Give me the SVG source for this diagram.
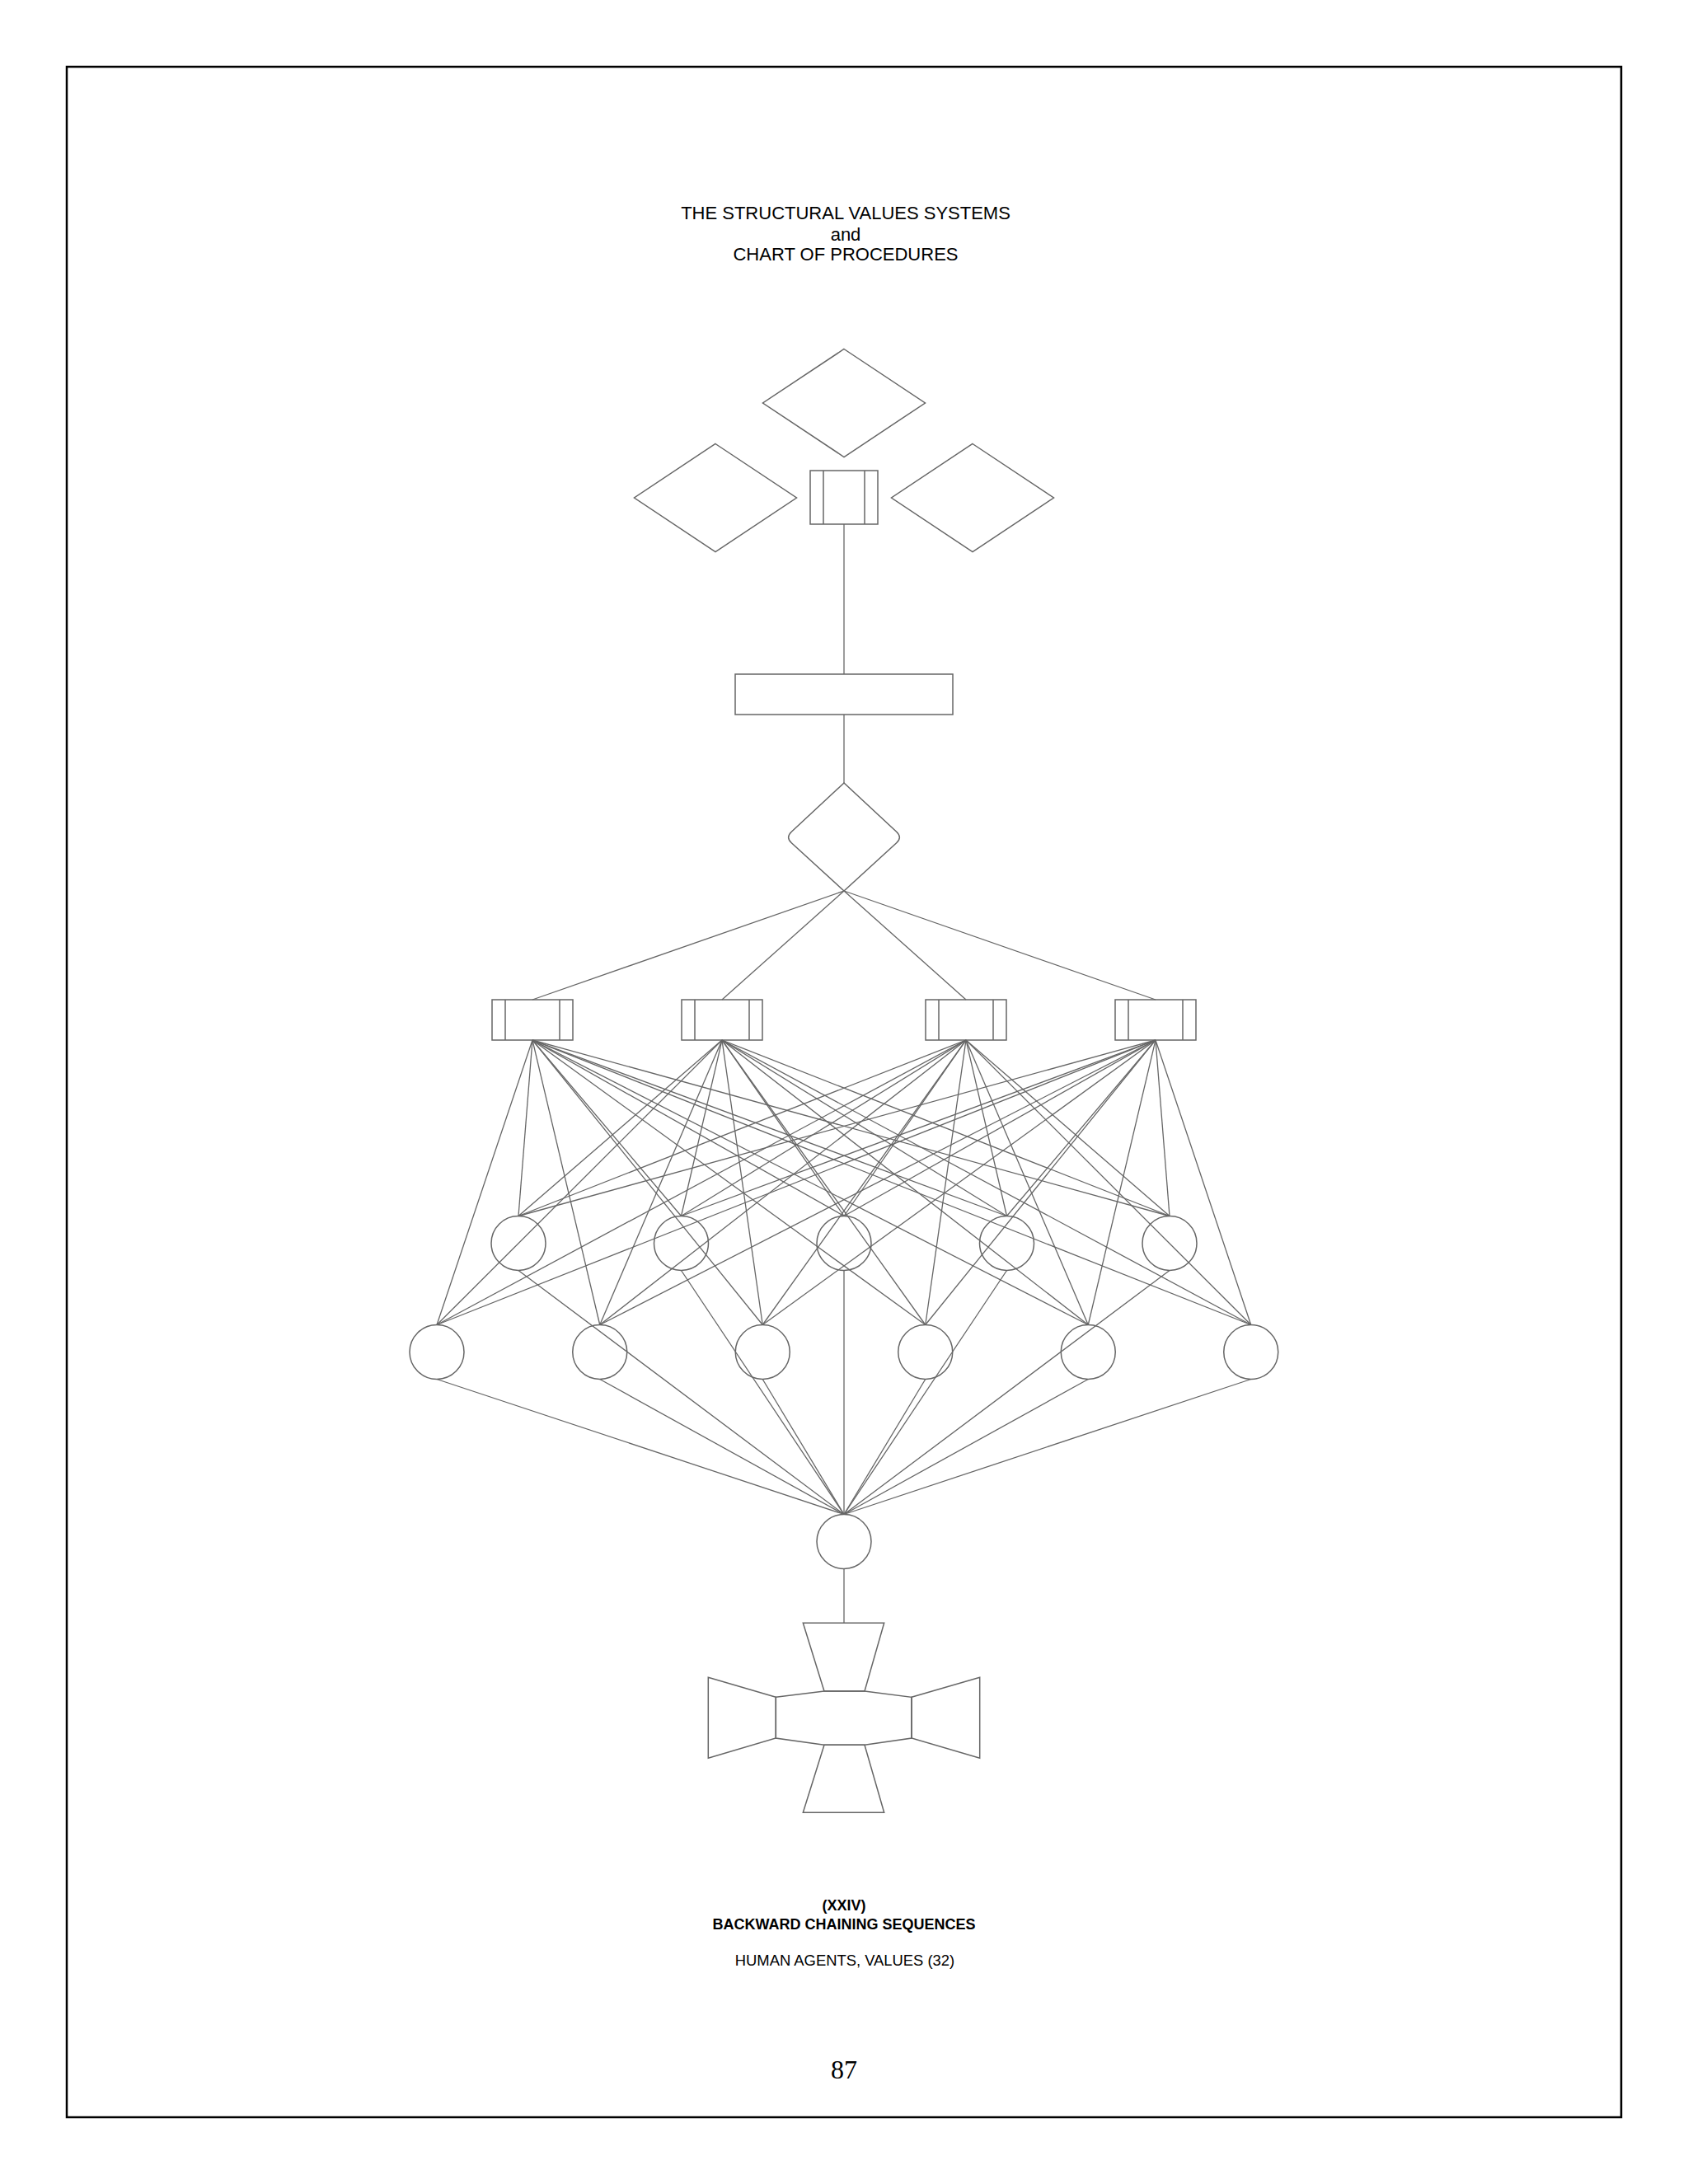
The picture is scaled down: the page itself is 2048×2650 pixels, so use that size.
<svg xmlns="http://www.w3.org/2000/svg" width="2048" height="2650" viewBox="0 0 2048 2650">
<style>
.s{fill:none;stroke:#666;stroke-width:1.5}
.c line{stroke:#666;stroke-width:1.3}
.t{font-family:"Liberation Sans",Arial,sans-serif;fill:#000;text-anchor:middle}
.b{font-weight:bold}
</style>
<rect x="0" y="0" width="2048" height="2650" fill="#fff"/>
<rect x="81" y="81" width="1886" height="2488" fill="none" stroke="#000" stroke-width="2.5"/>
<g id="title">
<text class="t" x="1026" y="265.5" font-size="22">THE STRUCTURAL VALUES SYSTEMS</text>
<text class="t" x="1026" y="292" font-size="22">and</text>
<text class="t" x="1026" y="316" font-size="22">CHART OF PROCEDURES</text>
</g>
<g id="diamond-top"><polygon class="s" points="1024,423.5 1122.5,489 1024,554.5 925.5,489"/></g>
<g id="diamond-left"><polygon class="s" points="868,538.5 966.5,604 868,669.5 769.5,604"/></g>
<g id="diamond-right"><polygon class="s" points="1180,538.5 1278.5,604 1180,669.5 1081.5,604"/></g>
<g id="box-top"><rect class="s" x="983" y="571" width="82" height="65"/><line class="s" x1="999" y1="571" x2="999" y2="636"/><line class="s" x1="1049" y1="571" x2="1049" y2="636"/></g>
<g id="rect-mid"><rect class="s" x="892" y="818" width="264" height="49"/></g>
<g id="decision"><path class="s" d="M1024,950 L960.3,1009.2 Q953,1016 960.3,1022.8 L1024,1081 L1087.7,1022.8 Q1095,1016 1087.7,1009.2 Z"/></g>
<g id="box1"><rect class="s" x="597" y="1213" width="98" height="49"/><line class="s" x1="613" y1="1213" x2="613" y2="1262"/><line class="s" x1="679" y1="1213" x2="679" y2="1262"/></g>
<g id="box2"><rect class="s" x="827" y="1213" width="98" height="49"/><line class="s" x1="843" y1="1213" x2="843" y2="1262"/><line class="s" x1="909" y1="1213" x2="909" y2="1262"/></g>
<g id="box3"><rect class="s" x="1123" y="1213" width="98" height="49"/><line class="s" x1="1139" y1="1213" x2="1139" y2="1262"/><line class="s" x1="1205" y1="1213" x2="1205" y2="1262"/></g>
<g id="box4"><rect class="s" x="1353" y="1213" width="98" height="49"/><line class="s" x1="1369" y1="1213" x2="1369" y2="1262"/><line class="s" x1="1435" y1="1213" x2="1435" y2="1262"/></g>
<g id="r1c1"><circle class="s" cx="629" cy="1508.5" r="33"/></g>
<g id="r1c2"><circle class="s" cx="826.5" cy="1508.5" r="33"/></g>
<g id="r1c3"><circle class="s" cx="1024" cy="1508.5" r="33"/></g>
<g id="r1c4"><circle class="s" cx="1221.5" cy="1508.5" r="33"/></g>
<g id="r1c5"><circle class="s" cx="1419" cy="1508.5" r="33"/></g>
<g id="r2c1"><circle class="s" cx="530" cy="1640.5" r="33"/></g>
<g id="r2c2"><circle class="s" cx="727.75" cy="1640.5" r="33"/></g>
<g id="r2c3"><circle class="s" cx="925.25" cy="1640.5" r="33"/></g>
<g id="r2c4"><circle class="s" cx="1122.75" cy="1640.5" r="33"/></g>
<g id="r2c5"><circle class="s" cx="1320.25" cy="1640.5" r="33"/></g>
<g id="r2c6"><circle class="s" cx="1517.75" cy="1640.5" r="33"/></g>
<g id="circle-bottom"><circle class="s" cx="1024" cy="1870.5" r="33"/></g>
<g id="cross">
<polygon class="s" points="974.3,1969.3 1072.7,1969.3 1049,2052 1000,2052"/>
<polygon class="s" points="941.3,2059.3 1000,2052 1049,2052 1106,2059.3 1106,2109 1049,2117.3 1000,2117.3 941.3,2109"/>
<polygon class="s" points="941.3,2059.3 859.3,2035.3 859.3,2133.3 941.3,2109"/>
<polygon class="s" points="1106,2059.3 1188.7,2035.3 1188.7,2133.3 1106,2109"/>
<polygon class="s" points="1000,2117.3 1049,2117.3 1072.7,2199.3 974.3,2199.3"/>
</g>
<g id="connectors" class="c">
<line x1="1024" y1="636" x2="1024" y2="818"/>
<line x1="1024" y1="867" x2="1024" y2="950"/>
<line x1="1024" y1="1081" x2="646" y2="1213"/>
<line x1="1024" y1="1081" x2="876" y2="1213"/>
<line x1="1024" y1="1081" x2="1172" y2="1213"/>
<line x1="1024" y1="1081" x2="1402" y2="1213"/>
<line x1="646" y1="1262" x2="629" y2="1475.5"/>
<line x1="646" y1="1262" x2="826.5" y2="1475.5"/>
<line x1="646" y1="1262" x2="1024" y2="1475.5"/>
<line x1="646" y1="1262" x2="1221.5" y2="1475.5"/>
<line x1="646" y1="1262" x2="1419" y2="1475.5"/>
<line x1="646" y1="1262" x2="530" y2="1607.5"/>
<line x1="646" y1="1262" x2="727.75" y2="1607.5"/>
<line x1="646" y1="1262" x2="925.25" y2="1607.5"/>
<line x1="646" y1="1262" x2="1122.75" y2="1607.5"/>
<line x1="646" y1="1262" x2="1320.25" y2="1607.5"/>
<line x1="646" y1="1262" x2="1517.75" y2="1607.5"/>
<line x1="876" y1="1262" x2="629" y2="1475.5"/>
<line x1="876" y1="1262" x2="826.5" y2="1475.5"/>
<line x1="876" y1="1262" x2="1024" y2="1475.5"/>
<line x1="876" y1="1262" x2="1221.5" y2="1475.5"/>
<line x1="876" y1="1262" x2="1419" y2="1475.5"/>
<line x1="876" y1="1262" x2="530" y2="1607.5"/>
<line x1="876" y1="1262" x2="727.75" y2="1607.5"/>
<line x1="876" y1="1262" x2="925.25" y2="1607.5"/>
<line x1="876" y1="1262" x2="1122.75" y2="1607.5"/>
<line x1="876" y1="1262" x2="1320.25" y2="1607.5"/>
<line x1="876" y1="1262" x2="1517.75" y2="1607.5"/>
<line x1="1172" y1="1262" x2="629" y2="1475.5"/>
<line x1="1172" y1="1262" x2="826.5" y2="1475.5"/>
<line x1="1172" y1="1262" x2="1024" y2="1475.5"/>
<line x1="1172" y1="1262" x2="1221.5" y2="1475.5"/>
<line x1="1172" y1="1262" x2="1419" y2="1475.5"/>
<line x1="1172" y1="1262" x2="530" y2="1607.5"/>
<line x1="1172" y1="1262" x2="727.75" y2="1607.5"/>
<line x1="1172" y1="1262" x2="925.25" y2="1607.5"/>
<line x1="1172" y1="1262" x2="1122.75" y2="1607.5"/>
<line x1="1172" y1="1262" x2="1320.25" y2="1607.5"/>
<line x1="1172" y1="1262" x2="1517.75" y2="1607.5"/>
<line x1="1402" y1="1262" x2="629" y2="1475.5"/>
<line x1="1402" y1="1262" x2="826.5" y2="1475.5"/>
<line x1="1402" y1="1262" x2="1024" y2="1475.5"/>
<line x1="1402" y1="1262" x2="1221.5" y2="1475.5"/>
<line x1="1402" y1="1262" x2="1419" y2="1475.5"/>
<line x1="1402" y1="1262" x2="530" y2="1607.5"/>
<line x1="1402" y1="1262" x2="727.75" y2="1607.5"/>
<line x1="1402" y1="1262" x2="925.25" y2="1607.5"/>
<line x1="1402" y1="1262" x2="1122.75" y2="1607.5"/>
<line x1="1402" y1="1262" x2="1320.25" y2="1607.5"/>
<line x1="1402" y1="1262" x2="1517.75" y2="1607.5"/>
<line x1="629" y1="1541.5" x2="1024" y2="1837.5"/>
<line x1="826.5" y1="1541.5" x2="1024" y2="1837.5"/>
<line x1="1024" y1="1541.5" x2="1024" y2="1837.5"/>
<line x1="1221.5" y1="1541.5" x2="1024" y2="1837.5"/>
<line x1="1419" y1="1541.5" x2="1024" y2="1837.5"/>
<line x1="530" y1="1673.5" x2="1024" y2="1837.5"/>
<line x1="727.75" y1="1673.5" x2="1024" y2="1837.5"/>
<line x1="925.25" y1="1673.5" x2="1024" y2="1837.5"/>
<line x1="1122.75" y1="1673.5" x2="1024" y2="1837.5"/>
<line x1="1320.25" y1="1673.5" x2="1024" y2="1837.5"/>
<line x1="1517.75" y1="1673.5" x2="1024" y2="1837.5"/>
<line x1="1024" y1="1903.5" x2="1024" y2="1969.3"/>
</g>
<g id="caption">
<text class="t b" x="1024" y="2318" font-size="18">(XXIV)</text>
<text class="t b" x="1024" y="2341" font-size="18">BACKWARD CHAINING SEQUENCES</text>
<text class="t" x="1025" y="2385" font-size="18.4">HUMAN AGENTS, VALUES (32)</text>
<text x="1024" y="2522" font-size="32" text-anchor="middle" font-family="'Liberation Serif','Times New Roman',serif">87</text>
</g>
</svg>
